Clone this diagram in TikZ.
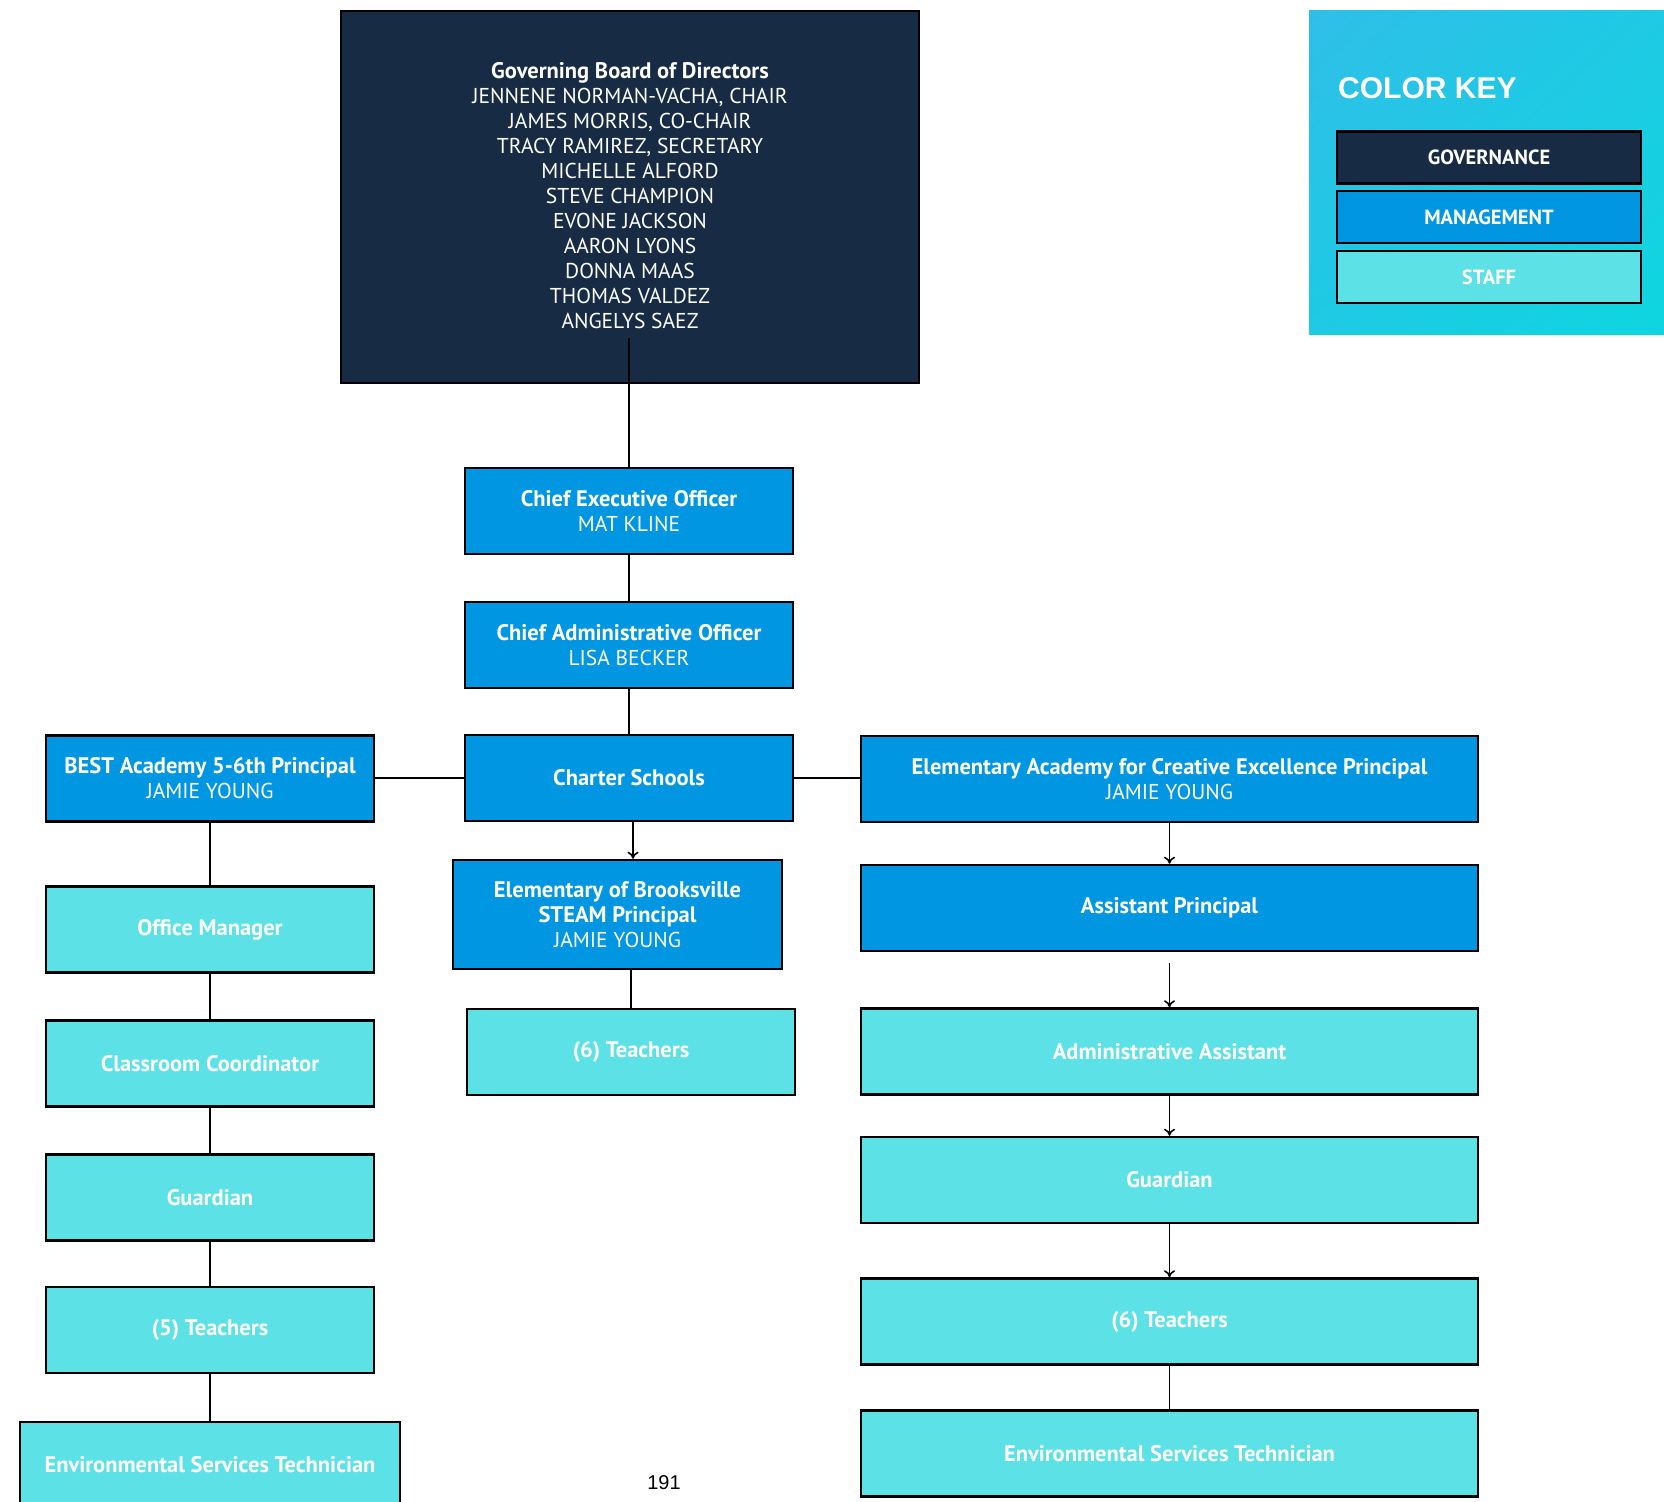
\documentclass[tikz,border=0pt]{standalone}
\usepackage{fontspec}
\setmainfont{PT Sans}
\newfontfamily\keyfont{Liberation Sans}
\usepackage{tikz}
\usetikzlibrary{arrows.meta, positioning, calc, shadings}
\definecolor{govnavy}{HTML}{182B44}
\definecolor{mgmtblue}{HTML}{0096E2}
\definecolor{staffcyan}{HTML}{5CE1E6}
\definecolor{keytl}{RGB}{48,190,232}
\definecolor{keybr}{RGB}{14,214,224}
\definecolor{keymid}{RGB}{30,202,228}
\newcommand\hd[1]{{\fontsize{22.5}{25}\selectfont\bfseries #1}}
\tikzset{
        block/.style={draw=black, line width=2.5pt, text=white, align=center, inner sep=0pt,
                      minimum width=328pt, minimum height=86pt, font=\fontsize{21.5}{25}\selectfont},
        gov/.style={block, fill=govnavy},
        mgmt/.style={block, fill=mgmtblue},
        staff/.style={block, fill=staffcyan, font=\fontsize{22.5}{25}\selectfont\bfseries},
        keybox/.style={draw=black, line width=2.5pt, text=white, minimum width=304pt, minimum height=52pt,
                       inner sep=0pt, font=\fontsize{20.5}{22}\selectfont\bfseries},
        line/.style={line width=1.6pt},
        arrline/.style={line, -{To[length=7pt,width=11pt]}}
    }

\begin{document}
\begin{tikzpicture}[x=1pt, y=-1pt]
    \clip (0,0) rectangle (1664,1501);
    \useasboundingbox (0,0) rectangle (1664,1501);

    % board and top management
    \node[gov, minimum width=578pt, minimum height=372pt, text depth=3pt] (board) at (630,197)
        {\hd{Governing Board of Directors}\\JENNENE NORMAN-VACHA, CHAIR\\JAMES MORRIS, CO-CHAIR\\
         TRACY RAMIREZ, SECRETARY\\MICHELLE ALFORD\\STEVE CHAMPION\\EVONE JACKSON\\AARON LYONS\\
         DONNA MAAS\\THOMAS VALDEZ\\ANGELYS SAEZ};
    \node[mgmt] (ceo) at (629,511) {\hd{Chief Executive Officer}\\MAT KLINE};
    \node[mgmt] (cao) at (629,645) {\hd{Chief Administrative Officer}\\LISA BECKER};
    \node[mgmt] (charter) at (629,778) {\hd{Charter Schools}};

    % BEST academy column
    \node[mgmt] (best) at (210,778.5) {\hd{BEST Academy 5-6th Principal}\\JAMIE YOUNG};
    \node[staff] (office) at (210,929.5) {Office Manager};
    \node[staff] (coord) at (210,1063.5) {Classroom Coordinator};
    \node[staff] (guardl) at (210,1197.5) {Guardian};
    \node[staff] (teachl) at (210,1330) {(5) Teachers};
    \node[staff, minimum width=380pt] (envl) at (210,1465) {Environmental Services Technician};

    % Brooksville column
    \node[mgmt, minimum width=329pt, minimum height=109pt] (brook) at (617.5,914.5)
        {\hd{Elementary of Brooksville}\\\hd{STEAM Principal}\\JAMIE YOUNG};
    \node[staff] (teachm) at (631,1052) {(6) Teachers};

    % creative excellence column
    \node[mgmt, minimum width=617pt] (eace) at (1169.5,779)
        {\hd{Elementary Academy for Creative Excellence Principal}\\JAMIE YOUNG};
    \node[mgmt, minimum width=617pt] (asst) at (1169.5,908) {\hd{Assistant Principal}};
    \node[staff, minimum width=617pt] (admin) at (1169.5,1051.5) {Administrative Assistant};
    \node[staff, minimum width=617pt] (guardr) at (1169.5,1180) {Guardian};
    \node[staff, minimum width=617pt] (teachr) at (1169.5,1321.5) {(6) Teachers};
    \node[staff, minimum width=617pt] (envr) at (1169.5,1453.5) {Environmental Services Technician};

    % color key
    \shade[upper left=keytl, upper right=keymid, lower left=keymid, lower right=keybr]
        (1309,11) rectangle (1664,334);
    \node[anchor=base west, inner sep=0pt, text=white, font=\keyfont\fontsize{30}{30}\selectfont\bfseries]
        (keytitle) at (1338,99) {COLOR KEY};
    \node[keybox, fill=govnavy] (keygov) at (1489,157.5) {GOVERNANCE};
    \node[keybox, fill=mgmtblue] (keymgmt) at (1489,217) {MANAGEMENT};
    \node[keybox, fill=staffcyan] (keystaff) at (1489,277) {STAFF};

    \node[font=\keyfont\fontsize{20}{20}\selectfont] (pagenum) at (664,1483) {191};

    % top connections
    \coordinate (boardstem) at (629,338);
    \draw[line width=2.5pt] (boardstem) -- (ceo.north);
    \draw[line] (ceo) -- (cao);
    \draw[line] (cao) -- (charter);
    \draw[line] (charter.west) -- (best.east |- charter.west);
    \draw[line] (charter.east) -- (eace.west |- charter.east);

    % left connections
    \draw[line] (best) -- (office);
    \draw[line] (office) -- (coord);
    \draw[line] (coord) -- (guardl);
    \draw[line] (guardl) -- (teachl);
    \draw[line] (teachl) -- (envl);

    % middle connections
    \draw[arrline] ([xshift=4pt]charter.south) -- ([xshift=4pt]charter.south |- brook.north);
    \draw[line] (teachm.north) -- (teachm.north |- brook.south);

    % right connections
    \draw[arrline] (eace) -- (asst);
    \draw[arrline, shorten <=11pt] (asst) -- (admin);
    \draw[arrline] (admin) -- (guardr);
    \draw[arrline] (guardr) -- (teachr);
    \draw[line] (teachr) -- (envr);

\end{tikzpicture}
\end{document}
